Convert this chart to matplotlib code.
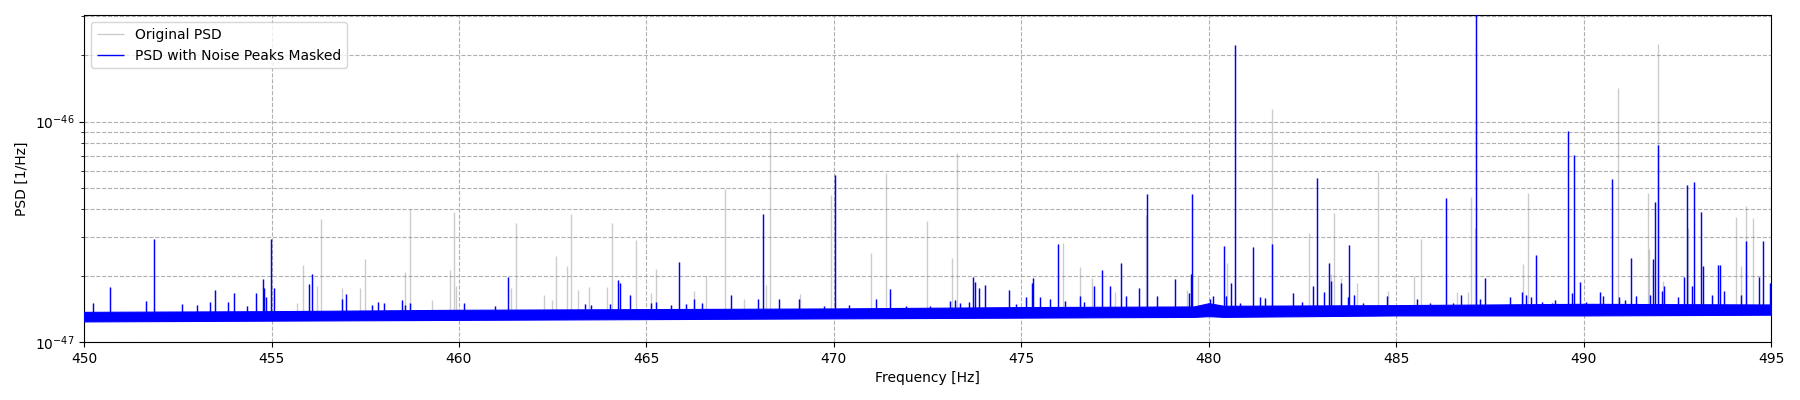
import numpy as np
import matplotlib
matplotlib.use("Agg")
import matplotlib.pyplot as plt

unit = 1e-47  # all PSD values below are in units of 1e-47 1/Hz

# peaks that survive the masking (blue), freq [Hz] and height
masked_freq = [450.25, 450.68, 451.64, 451.87, 452.62, 453.00, 453.37, 453.50, 453.85, 453.99,
               454.35, 454.58, 454.76, 454.81, 454.85, 454.98, 455.07, 455.99, 456.08, 456.88,
               456.99, 457.68, 457.84, 457.99, 458.48, 458.55, 458.69, 460.13, 460.95, 461.32,
               463.37, 463.52, 464.04, 464.24, 464.29, 464.55, 465.13, 465.25, 465.65, 465.87,
               466.06, 466.26, 466.48, 467.25, 467.97, 468.10, 468.54, 469.06, 469.73, 470.03,
               470.39, 471.11, 471.50, 471.93, 472.55, 473.10, 473.23, 473.36, 473.61, 473.71,
               473.76, 473.87, 474.02, 474.68, 474.86, 475.13, 475.28, 475.32, 475.49, 475.77,
               475.97, 476.17, 476.56, 476.67, 476.95, 477.15, 477.36, 477.65, 477.79, 478.13,
               478.34, 478.61, 479.10, 479.47, 479.52, 479.55, 480.03, 480.12, 480.40, 480.46,
               480.58, 480.69, 480.84, 481.17, 481.37, 481.50, 481.69, 482.25, 482.48, 482.77,
               482.89, 483.06, 483.20, 483.26, 483.52, 483.70, 483.74, 483.88, 484.12, 484.76,
               485.55, 485.91, 486.33, 486.51, 486.72, 487.12, 487.24, 487.36, 488.04, 488.36,
               488.47, 488.58, 488.72, 488.88, 489.15, 489.24, 489.59, 489.68, 489.74, 489.91,
               490.06, 490.43, 490.51, 490.76, 490.95, 491.09, 491.26, 491.39, 491.77, 491.84,
               491.91, 491.97, 492.08, 492.13, 492.51, 492.67, 492.75, 492.88, 492.94, 493.13,
               493.19, 493.43, 493.57, 493.64, 493.74, 494.19, 494.34, 494.68, 494.79, 494.98]
masked_psd = [1.50, 1.78, 1.54, 2.93, 1.49, 1.47, 1.52, 1.72, 1.52, 1.67,
              1.45, 1.66, 1.94, 1.75, 1.60, 2.93, 1.75, 1.83, 2.04, 1.57,
              1.65, 1.47, 1.52, 1.50, 1.55, 1.47, 1.51, 1.50, 1.46, 1.97,
              1.49, 1.47, 1.49, 1.91, 1.85, 1.63, 1.50, 1.52, 1.47, 2.30,
              1.49, 1.57, 1.50, 1.63, 1.57, 3.81, 1.56, 1.57, 1.46, 5.75,
              1.47, 1.57, 1.74, 1.46, 1.46, 1.54, 1.55, 1.50, 1.52, 1.98,
              1.87, 1.76, 1.82, 1.72, 1.49, 1.60, 1.85, 1.96, 1.60, 1.56,
              2.79, 1.54, 1.61, 1.52, 1.80, 2.12, 1.80, 2.28, 1.61, 1.76,
              4.68, 1.61, 1.93, 1.66, 2.03, 4.68, 1.57, 1.62, 2.73, 1.62,
              1.86, 22.3, 1.50, 2.71, 1.60, 1.58, 2.77, 1.67, 1.52, 1.80,
              5.53, 1.68, 2.28, 1.90, 1.86, 1.60, 2.76, 1.63, 1.50, 1.62,
              1.57, 1.50, 4.49, 1.50, 1.64, 35.0, 1.57, 1.95, 1.60, 1.68,
              1.63, 1.60, 2.48, 1.52, 1.50, 1.55, 9.10, 1.66, 7.06, 1.87,
              1.52, 1.68, 1.62, 5.50, 1.60, 1.55, 2.40, 1.62, 1.64, 2.39,
              4.33, 7.84, 1.70, 1.80, 1.60, 1.98, 5.16, 1.80, 5.34, 3.90,
              2.22, 1.63, 2.23, 2.23, 1.70, 1.64, 2.87, 1.98, 2.86, 1.85]

# peaks only in the original PSD (removed by the mask, grey)
removed_freq = [455.68, 455.83, 456.20, 456.32, 456.89, 457.36, 457.49, 458.57, 458.69, 459.27,
                459.76, 459.88, 459.93, 461.39, 461.51, 462.28, 462.47, 462.59, 462.87, 463.00,
                463.18, 463.48, 463.95, 464.08, 464.72, 465.12, 465.25, 466.28, 466.60, 467.09,
                467.60, 468.19, 468.29, 469.10, 469.92, 470.98, 471.39, 472.48, 473.15, 473.28,
                476.12, 476.57, 476.88, 477.50, 478.32, 479.43, 479.71, 480.48, 481.68, 482.67,
                483.25, 483.33, 483.52, 483.96, 484.52, 484.78, 485.47, 485.66, 486.62, 486.92,
                486.99, 487.09, 488.37, 488.51, 489.28, 490.91, 491.72, 491.75, 491.97, 492.11,
                492.77, 494.06, 494.20, 494.34, 494.51]
removed_psd = [1.50, 2.24, 1.79, 3.62, 1.75, 1.75, 2.39, 2.08, 4.00, 1.55,
               2.12, 3.90, 1.79, 1.75, 3.48, 1.63, 1.55, 2.46, 2.22, 3.81,
               1.72, 1.78, 1.78, 3.48, 2.90, 1.67, 2.14, 1.70, 2.00, 4.93,
               1.57, 1.82, 9.36, 1.65, 4.65, 2.53, 5.83, 3.55, 2.40, 7.23,
               2.82, 2.20, 1.96, 1.68, 3.77, 1.72, 1.98, 2.29, 11.4, 3.13,
               2.03, 3.86, 1.95, 1.85, 5.93, 1.70, 1.99, 2.92, 1.68, 1.68,
               4.57, 3.30, 2.26, 4.76, 1.50, 14.2, 4.73, 2.65, 22.5, 1.90,
               3.30, 3.68, 2.22, 4.14, 3.66]

# noise floor band (lower / upper envelope)
band_freq = [450, 455, 460, 465, 470, 475, 479.6, 480.0, 480.4, 485, 490, 495]
band_lo = [1.24, 1.25, 1.26, 1.27, 1.28, 1.29, 1.30, 1.31, 1.30, 1.32, 1.32, 1.33]
band_hi = [1.37, 1.38, 1.40, 1.41, 1.42, 1.44, 1.45, 1.50, 1.46, 1.47, 1.49, 1.48]
floor_level = 1.35

masked_freq = np.array(masked_freq)
masked_psd = np.array(masked_psd) * unit
orig_freq = np.concatenate([masked_freq, removed_freq])
orig_psd = np.concatenate([masked_psd, np.array(removed_psd) * unit])

fig, ax = plt.subplots(figsize=(18, 4), dpi=100)

# original PSD in grey underneath
ax.vlines(orig_freq, floor_level * unit, orig_psd, color="gray", alpha=0.4, lw=1,
          label="Original PSD", zorder=2)

# masked PSD on top
ax.fill_between(band_freq, np.array(band_lo) * unit, np.array(band_hi) * unit,
                color="blue", lw=0.8, zorder=3)
ax.vlines(masked_freq, floor_level * unit, masked_psd, color="blue", lw=1,
          label="PSD with Noise Peaks Masked", zorder=3)

ax.set_yscale("log")
ax.set_xlim(450, 495)
ax.set_ylim(1e-47, 3.04e-46)
ax.set_xlabel("Frequency [Hz]")
ax.set_ylabel("PSD [1/Hz]")
ax.grid(True, which="both", linestyle="--")
ax.legend(loc="upper left")

plt.subplots_adjust(left=0.0467, right=0.984, top=0.962, bottom=0.145)
plt.savefig("out.png")
